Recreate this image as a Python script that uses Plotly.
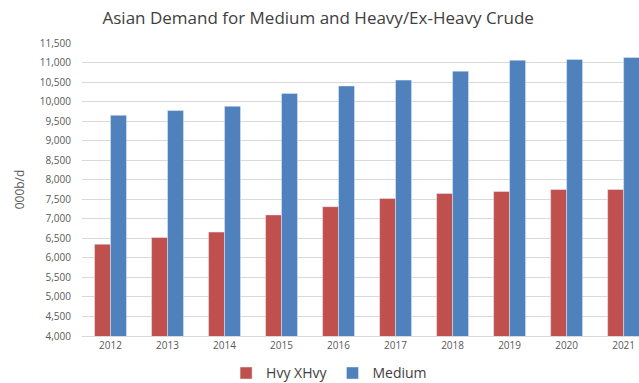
import plotly.graph_objects as go

years = ["2012", "2013", "2014", "2015", "2016", "2017", "2018", "2019", "2020", "2021"]
hvy_xhvy = [6350, 6520, 6660, 7100, 7310, 7520, 7650, 7700, 7750, 7750]
medium = [9650, 9770, 9880, 10210, 10400, 10550, 10780, 11060, 11080, 11130]
y_ticks = list(range(4000, 11501, 500))
y_tick_text = [f"{v:,}" for v in y_ticks]

fig = go.Figure()
fig.add_trace(go.Bar(x=years, y=hvy_xhvy, name="Hvy XHvy", marker_color="#C0504D"))
fig.add_trace(go.Bar(x=years, y=medium, name="Medium", marker_color="#4F81BD"))

fig.update_layout(
    width=639, height=383,
    margin=dict(l=82, r=0, t=43, b=47, autoexpand=False),
    paper_bgcolor="white", plot_bgcolor="white",
    barmode="group", bargap=0.44, bargroupgap=0,
    font=dict(family="Open Sans", color="#595959"),
    title=dict(text="Asian Demand for Medium and Heavy/Ex-Heavy Crude",
               x=0.498, xref="container", xanchor="center",
               y=1 - 18 / 383, yref="container", yanchor="middle",
               font=dict(size=17, color="#404040")),
    legend=dict(orientation="h", x=0.515, xref="container", xanchor="center",
                y=0.025, yref="container", yanchor="middle",
                font=dict(size=14, color="#404040"), traceorder="normal",
                itemwidth=30, entrywidth=0),
    xaxis=dict(range=[-0.5, 9.27], showgrid=False, showline=True, linecolor="#D9D9D9",
               tickfont=dict(size=10, color="#595959"), ticks=""),
    yaxis=dict(range=[4000, 11500], tickvals=y_ticks, ticktext=y_tick_text,
               showgrid=True, gridcolor="#D9D9D9", zeroline=False,
               tickfont=dict(size=10, color="#595959"), ticklabelstandoff=10,
               title=dict(text="000b/d", font=dict(size=12, color="#595959"), standoff=12)),
)

fig.write_html("out.html")
